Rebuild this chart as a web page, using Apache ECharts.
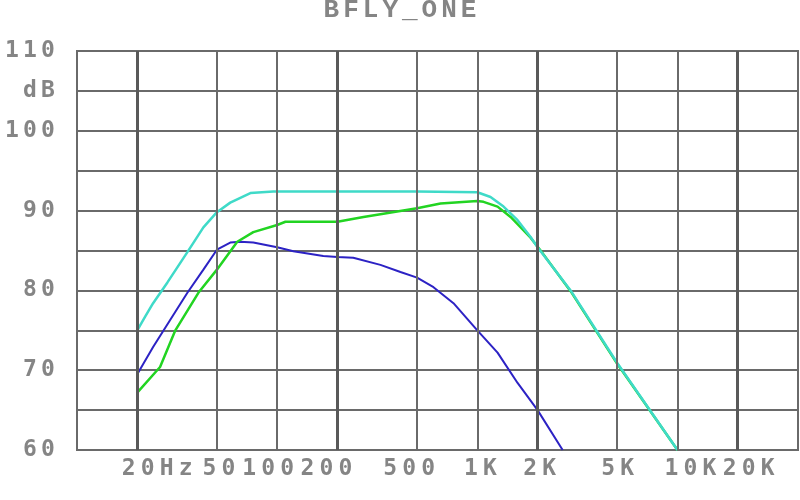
<!DOCTYPE html>
<html>
<head>
<meta charset="utf-8">
<script src="https://cdn.jsdelivr.net/npm/echarts@6/dist/echarts.min.js"></script>
<style>html,body{margin:0;padding:0;background:#fff}#c{width:800px;height:500px}</style>
</head>
<body>
<div id="c"></div>
<script>
// ---- data ----
const chartTitle = 'BFLY_ONE';
const freqTicks = [20, 50, 100, 200, 500, 1000, 2000, 5000, 10000, 20000];
const freqTickLabels = ['20Hz', '50', '100', '200', '500', '1K', '2K', '5K', '10K', '20K'];
const majorFreqs = [20, 200, 2000, 20000];
const dbUnitLabel = 'dB';
const dbUnitAt = 105;

const cyanCurve = [
  [20, 75], [21.9, 76.7], [24, 78.4], [28.3, 81], [35.6, 84.8], [42.8, 87.9], [50, 89.8],
  [58.3, 91], [73.5, 92.2], [95.7, 92.4], [200, 92.4], [500, 92.4], [1000, 92.3],
  [1164, 91.7], [1352, 90.5], [1589, 88.8], [1845, 86.7], [2000, 85.4], [2924, 80],
  [5000, 70.9], [10000, 60]
];
const greenCurve = [
  [20, 67.2], [26, 70.4], [31, 75], [40.4, 79.7], [50, 82.6], [63.2, 86.1], [76, 87.3],
  [100, 88.2], [110, 88.6], [200, 88.6], [270, 89.2], [500, 90.3], [655, 90.9], [1000, 91.2],
  [1074, 91.1], [1262, 90.5], [1466, 89.2], [1845, 86.6], [2070, 85.0], [2924, 79.9],
  [5000, 70.8], [10000, 60]
];
const blueCurve = [
  [20, 69.5], [24, 72.9], [29.2, 76.3], [35.6, 79.7], [42.8, 82.6], [50, 85.1], [58.3, 86],
  [65.5, 86.1], [76, 86], [100, 85.4], [120.5, 84.9], [170, 84.3], [200, 84.2], [240, 84.1],
  [328, 83.2], [413, 82.3], [500, 81.6], [604, 80.4], [760, 78.4], [1000, 75], [1262, 72.2],
  [1589, 68.4], [2000, 65], [2668, 60]
];

// ---- styling helpers ----
const TXT = '#858585';
const GRIDC = '#6a6a6a';
const MONO = '"DejaVu Sans Mono", monospace';
const labelShift = [20, 2, -9, -11, -8, 3, 2, 0, 13, 11];

function spaced(text, cls) {
  return text.split('').map(ch => '{' + cls + '|' + ch + '}').join('');
}

const charStyle = (w) => ({ width: w, align: 'center', fontFamily: MONO, fontWeight: 'bold', fontSize: 23, lineHeight: 22, color: TXT });

const xRich = { c: charStyle(19) };
labelShift.forEach((s, i) => {
  xRich['p' + i] = { width: Math.max(1, Math.abs(s) * 2), fontSize: 22, lineHeight: 22 };
});

function xLabel(v) {
  const idx = freqTicks.findIndex(f => Math.abs(Math.log10(f) - Math.log10(v)) < 1e-6);
  if (idx < 0) return '';
  const body = spaced(freqTickLabels[idx], 'c');
  const s = labelShift[idx];
  const pad = '{p' + idx + '| }';
  return s >= 0 ? pad + body : body + pad;
}

// two overlaid label axes so that tightly packed labels are all kept
function labelAxis(parity) {
  return {
    type: 'log', logBase: 10, min: 10, max: 40000, position: 'bottom', offset: 0, gridIndex: 0,
    axisLine: { show: false }, axisTick: { show: false }, splitLine: { show: false },
    minorTick: { show: false }, minorSplitLine: { show: false },
    axisLabel: {
      customValues: freqTicks.filter((f, i) => i % 2 === parity),
      interval: 0,
      margin: 8,
      formatter: xLabel,
      rich: xRich,
      showMinLabel: true, showMaxLabel: true, hideOverlap: false
    }
  };
}

const chart = echarts.init(document.getElementById('c'), null, { renderer: 'canvas' });

const option = {
  backgroundColor: '#ffffff',
  animation: false,
  title: {
    text: spaced(chartTitle, 't'),
    left: 'center',
    top: -3,
    padding: 0,
    textStyle: {
      rich: {
        t: { width: 19.6, align: 'center', fontFamily: '"Liberation Mono", "Courier New", monospace', fontWeight: 'bold', fontSize: 26, lineHeight: 26, color: TXT }
      }
    }
  },
  grid: {
    left: 77, top: 51, width: 721, height: 399,
    show: true, borderColor: GRIDC, borderWidth: 2, backgroundColor: 'transparent'
  },
  xAxis: [labelAxis(0), labelAxis(1)],
  yAxis: {
    type: 'value', min: 60, max: 110, interval: 5,
    axisLine: { show: false }, axisTick: { show: false },
    splitLine: { show: true, lineStyle: { color: GRIDC, width: 2 } },
    axisLabel: {
      margin: 20,
      formatter: v => (v % 10 === 0 ? spaced(String(v), 'c') : (v === dbUnitAt ? spaced(dbUnitLabel, 'c') : '')),
      rich: { c: charStyle(18) }
    }
  },
  series: [
    {
      type: 'line', data: [], z: 1, silent: true, xAxisIndex: 0,
      markLine: {
        silent: true, symbol: 'none', animation: false,
        label: { show: false },
        data: freqTicks.map(f => ({
          xAxis: f,
          lineStyle: {
            type: 'solid',
            color: majorFreqs.includes(f) ? '#595959' : GRIDC,
            width: majorFreqs.includes(f) ? 3 : 2
          }
        }))
      }
    },
    { name: 'blue', type: 'line', xAxisIndex: 0, data: blueCurve, showSymbol: false, z: 3, lineStyle: { color: '#2c22c4', width: 2 }, itemStyle: { color: '#2c22c4' } },
    { name: 'green', type: 'line', xAxisIndex: 0, data: greenCurve, showSymbol: false, z: 3, lineStyle: { color: '#22d422', width: 2.5 }, itemStyle: { color: '#22d422' } },
    { name: 'cyan', type: 'line', xAxisIndex: 0, data: cyanCurve, showSymbol: false, z: 3, lineStyle: { color: '#3fdac8', width: 2.5 }, itemStyle: { color: '#3fdac8' } }
  ]
};
chart.setOption(option);
</script>
</body>
</html>
